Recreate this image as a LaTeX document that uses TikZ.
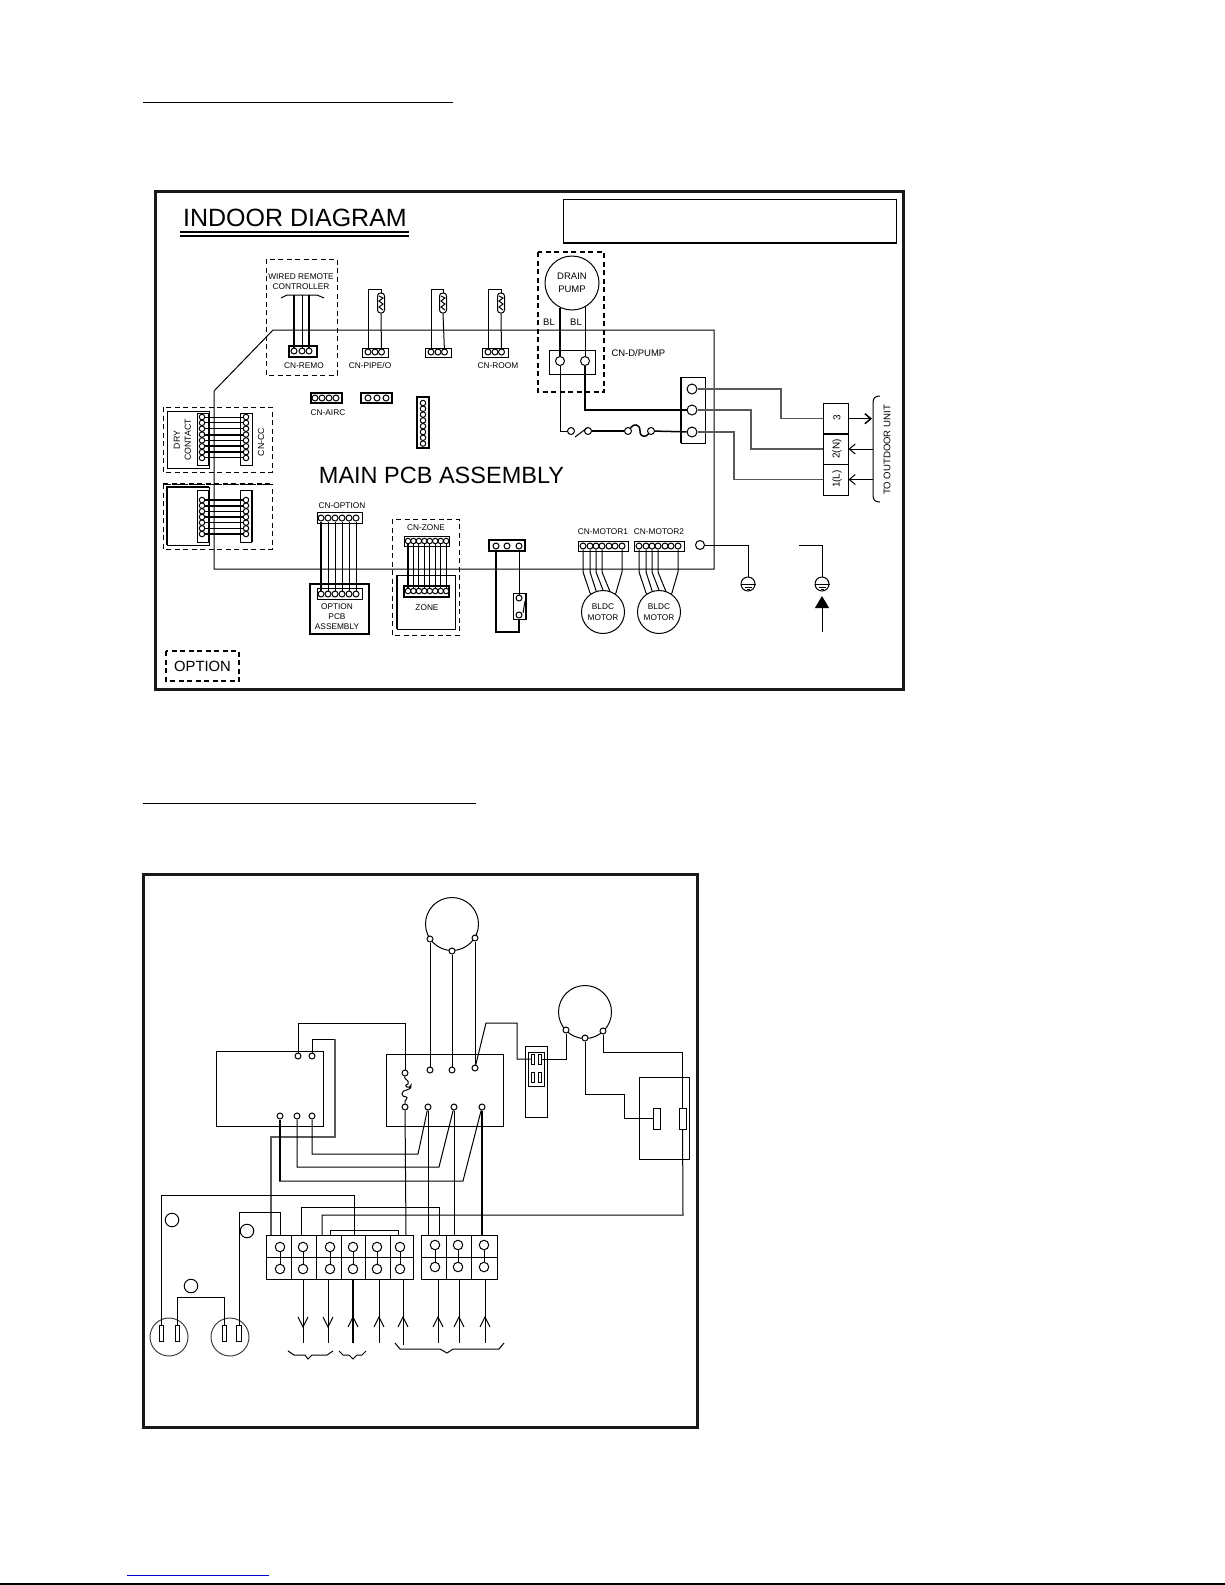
\documentclass[tikz,border=0pt]{standalone}
\usepackage{fontspec}
\setmainfont{Liberation Sans}
\usetikzlibrary{arrows.meta}

\tikzset{
  fat/.style={line width=2pt},
  mid/.style={line width=1.5pt},
  greywire/.style={line width=1.2pt, black!65},
  optbox/.style={line width=1pt, dash pattern=on 5pt off 3.5pt},
  hole/.style={draw, circle, fill=white, inner sep=0pt, minimum size=#1},
  hole/.default=6pt,
  lab/.style={inner sep=0pt, font=\fontsize{8.3}{10.5}\selectfont, align=center},
  lug/.style={draw, circle, inner sep=0pt, align=center, font=\fontsize{8.3}{10.5}\selectfont},
}

\begin{document}
\begin{tikzpicture}[x=1pt, y=-1pt, line width=1pt]
  \useasboundingbox (0,0) rectangle (1225,1585);

  \draw (143,102) -- (453,102);
  \draw (143,803) -- (476,803);
  \draw [blue!80!black] (127,1575) -- (269,1575);
  \draw [line width=2pt] (0,1584) -- (1225,1584);

  \draw [line width=3pt, black!90] (155,191) rectangle (903,689);
  \draw (563,199) rectangle (896,243);
  \draw [line width=1.8pt] (563,243) -- (896,243);
  \node [inner sep=0pt, font=\fontsize{25}{25}\selectfont] (indoor) at (295,218) {INDOOR DIAGRAM};
  \draw [line width=2pt] (180,232) -- (409,232);
  \draw [line width=2pt] (180,236) -- (409,236);
  \node [inner sep=0pt, font=\fontsize{23.5}{24}\selectfont] (mainpcb) at (441.5,475) {MAIN PCB ASSEMBLY};

  \draw (273,330) -- (714,330) -- (714,569) -- (214,569) -- (214,391) -- cycle;

  \draw [optbox] (266,259) rectangle (337,375);
  \draw [optbox, line width=1.6pt] (538,252) rectangle (604,392);
  \draw [optbox] (163,407) rectangle (272,472);
  \draw [optbox] (163,484) rectangle (272,549);
  \draw [optbox] (392,519) rectangle (459,635);
  \draw [optbox, line width=1.4pt] (166,651) rectangle (239,681);
  \node [inner sep=0pt, font=\fontsize{14.8}{15}\selectfont] (optionkey) at (202.5,666) {OPTION};

  \node [lab] (wiredrc) at (301,281.5) {WIRED REMOTE\\CONTROLLER};
  \node [lab] (lremo) at (304,366) {CN-REMO};
  \node [lab] (lpipe) at (370,366) {CN-PIPE/O};
  \node [lab] (lroom) at (498,366) {CN-ROOM};
  \node [lab] (laircon) at (328,413) {CN-AIRC};
  \node [lab] (loption) at (342,506) {CN-OPTION};
  \node [lab] (lzone) at (426,528) {CN-ZONE};
  \node [lab] (lmot1) at (603,532) {CN-MOTOR1};
  \node [lab] (lmot2) at (659,532) {CN-MOTOR2};
  \node [lab, anchor=west, font=\fontsize{9.5}{11}\selectfont] (ldpump) at (611,353) {CN-D/PUMP};
  \node [lab, font=\fontsize{9.5}{11}\selectfont] (lbl1) at (549,322) {BL};
  \node [lab, font=\fontsize{9.5}{11}\selectfont] (lbl2) at (576,322) {BL};
  \node [lab, rotate=90, font=\fontsize{8.8}{11}\selectfont] (ldry) at (182.5,440) {DRY\\CONTACT};
  \node [lab, rotate=90, font=\fontsize{8.8}{11}\selectfont] (lcc) at (261,442) {CN-CC};
  \node [lab, rotate=90, font=\fontsize{9.6}{11}\selectfont] (lout) at (887,450) {TO OUTDOOR UNIT};

  \draw (281,298) -- (287,295) -- (317,295) -- (324,298);
  \draw [mid] (289,346) rectangle (317,357);
  \foreach \n/\x in {1/294,2/302,3/309}{
    \node [hole] (remo\n) at (\x,351) {};
    \coordinate (remotop\n) at (\x,295);
  }
  \draw [mid] (remotop1) -- (remo1);
  \draw (remotop2) -- (remo2);
  \draw [mid] (remotop3) -- (remo3);

  \foreach \s/\xa/\xc in {a/368/381,b/431/443,c/488/501}{
    \draw (\xa-6,348) rectangle (\xa+20,357);
    \node [hole] (\s1) at (\xa,352) {};
    \node [hole] (\s2) at (\xa+7,352) {};
    \node [hole] (\s3) at (\xa+13.5,352) {};
    \node [draw, rounded corners=3pt, inner sep=0pt, minimum width=7pt, minimum height=20pt] (therm\s) at (\xc,303) {};
    \draw (\xc-2,296) -- (\xc+2,298) -- (\xc-2,301) -- (\xc+2,304) -- (\xc-2,307) -- (\xc+2,310);
    \draw (\s1) -- (\xa,289) -| (therm\s.north);
    \draw (therm\s.south) -- (\s3);
  }

  \draw [mid] (311,393) rectangle (342,403);
  \foreach \n/\x in {1/315,2/322,3/329,4/336}{
    \node [hole] (airc\n) at (\x,398) {};
  }
  \draw [mid] (361,393) rectangle (392,403);
  \foreach \n/\x in {1/368,2/377,3/386}{
    \node [hole] (bus\n) at (\x,398) {};
  }
  \draw [mid] (417,397) rectangle (429,448);
  \foreach \n in {0,...,7}{
    \node [hole=5.5pt] (col\n) at (423,403+\n*5.8) {};
  }

  \draw (167,411) rectangle (209,468);
  \draw (197,413) rectangle (208,465);
  \draw (240,413) rectangle (252,465);
  \foreach \n in {0,...,7}{
    \node [hole=5.5pt] (dl\n) at (202,417+\n*5.85) {};
    \node [hole=5.5pt] (dr\n) at (246,417+\n*5.85) {};
  }
  \foreach \n in {0,1,2,4,7}{
    \draw (dl\n) -- (dr\n);
  }
  \foreach \n in {3,5,6}{
    \draw [fat] (dl\n) -- (dr\n);
  }

  \draw [optbox, line width=1.6pt] (163,484) -- (272,484);
  \draw [mid] (167,545) -- (167,487) -- (209,487);
  \draw (167,545) -- (209,545) -- (209,487);
  \draw (197,490) rectangle (208,542);
  \draw (240,490) rectangle (251,542);
  \draw [line width=1.8pt] (252,490) -- (252,542);
  \foreach \n in {0,...,6}{
    \node [hole=5.5pt] (el\n) at (202,500+\n*5.67) {};
    \node [hole=5.5pt] (er\n) at (246,500+\n*5.67) {};
  }
  \foreach \n in {2,4,5}{
    \draw (el\n) -- (er\n);
  }
  \foreach \n in {0,1,3,6}{
    \draw [fat] (el\n) -- (er\n);
  }

  \node [draw, line width=1.8pt, minimum width=59pt, minimum height=50pt] (optpcb) at (339.5,609) {};
  \node [lab, font=\fontsize{8.3}{10}\selectfont] (loptpcb) at (337,617) {OPTION\\PCB\\ASSEMBLY};
  \draw (317,512) rectangle (362,523);
  \draw (317,588) rectangle (362,599);
  \foreach \n/\x in {1/321,2/328,3/335,4/342,5/349,6/356}{
    \node [hole] (opta\n) at (\x,518) {};
    \node [hole] (optb\n) at (\x,594) {};
  }
  \draw [fat] (opta1) -- (optb1);
  \foreach \n in {2,...,6}{
    \draw (opta\n) -- (optb\n);
  }

  \draw (397,575) rectangle (455,629);
  \draw [fat] (397,575) -- (397,629);
  \node [lab] (lzonebox) at (427,608) {ZONE};
  \draw (404,536) rectangle (449,546);
  \draw [mid] (404,586) rectangle (449,597);
  \foreach \n in {0,...,7}{
    \node [hole=5.5pt] (zna\n) at (408+\n*5.45,541) {};
    \node [hole=5.5pt] (znb\n) at (408+\n*5.45,591) {};
  }
  \draw [fat] (zna0) -- (znb0);
  \foreach \n in {1,...,7}{
    \draw (zna\n) -- (znb\n);
  }

  \draw [mid] (489,540) rectangle (525,551);
  \foreach \n/\x in {1/496,2/507,3/519}{
    \node [hole] (flt\n) at (\x,546) {};
  }
  \draw (513,593) rectangle (526,619);
  \draw [mid] (526,593) -- (526,619);
  \node [hole] (sw1) at (519,598) {};
  \node [hole] (sw2) at (519,615) {};
  \draw (523,613) -- (525,601);
  \draw (flt3) -- (sw1);
  \draw [mid] (flt1) -- (496,632) -| (sw2);

  \foreach \m/\dx/\cx in {1/0/603,2/56/659}{
    \node [lug, minimum size=43pt] (bldc\m) at (\cx,612) {BLDC\\MOTOR};
    \draw (578+\dx,541) rectangle (628+\dx,551);
    \foreach \n/\x in {1/583,2/590,3/596,4/602,5/609,6/615,7/622}{
      \node [hole] (mot\m\n) at (\x+\dx,546) {};
    }
    \foreach \n/\a in {1/125,2/108,3/90,4/72,7/55}{
      \draw (mot\m\n) -- (mot\m\n |- 0,572) -- (bldc\m.\a);
    }
  }

  \node [lug, font=\fontsize{9.5}{12.5}\selectfont, minimum size=54pt] (pump) at (572,283) {DRAIN\\PUMP};
  \draw (549,350) rectangle (595,374);
  \node [hole=9pt] (dp1) at (560,361) {};
  \node [hole=9pt] (dp2) at (585,361) {};
  \draw [fat] (pump.244 -| dp1) -- (dp1);
  \draw (pump.299 -| dp2) -- (dp2);

  \draw (681,377) rectangle (705,443);
  \draw [fat] (681,377) -- (681,443);
  \node [hole=10pt] (tb1) at (692,389) {};
  \node [hole=10pt] (tb2) at (692,410) {};
  \node [hole=10pt] (tb3) at (692,432) {};
  \node [hole=7pt] (brk1) at (571,431) {};
  \node [hole=7pt] (brk2) at (588,431) {};
  \node [hole=7pt] (fus1) at (628,431) {};
  \node [hole=7pt] (fus2) at (651,431) {};
  \draw (dp1) |- (brk1);
  \draw (575,437) -- (587,428);
  \draw [mid] (brk2) -- (fus1);
  \draw [mid] (fus1) .. controls (634,423) and (640,424) .. (640,431) .. controls (640,438) and (646,437) .. (fus2);
  \draw [mid] (fus2) -- (tb3);
  \draw [mid] (dp2) |- (tb2);

  \node [draw, minimum width=25pt, minimum height=29.5pt, inner sep=0pt] (out3) at (835.5,418.7) {};
  \node [draw, minimum width=25pt, minimum height=30pt, inner sep=0pt] (out2) at (835.5,449) {};
  \node [draw, minimum width=25pt, minimum height=31pt, inner sep=0pt] (out1) at (835.5,479.5) {};
  \node [lab, rotate=90, font=\fontsize{10}{11}\selectfont] (lout3) at (837,418) {3};
  \node [lab, rotate=90, font=\fontsize{10}{11}\selectfont] (lout2) at (837,449) {2(N)};
  \node [lab, rotate=90, font=\fontsize{10}{11}\selectfont] (lout1) at (837,479) {1(L)};
  \draw [greywire] (tb1) -- (781,389) |- (out3);
  \draw [greywire] (tb2) -- (751,410) |- (out2);
  \draw [greywire] (tb3) -- (734,432) |- (out1);

  \coordinate (brtop) at (880,396);
  \coordinate (brbot) at (880,502);
  \draw [-{Straight Barb[length=6pt,width=10pt]}, mid] (out3.east) -- (872,418.7);
  \draw [-{Straight Barb[length=6pt,width=10pt]}] (873,449) -- (out2.east);
  \draw [-{Straight Barb[length=6pt,width=10pt]}] (873,479.5) -- (out1.east);
  \draw (brtop) .. controls (875,396) and (873,398) .. (873,403) -- (873,495) .. controls (873,500) and (875,502) .. (brbot);

  \node [hole=9pt] (eterm) at (700,545) {};
  \foreach \n/\x in {1/748,2/822}{
    \node [draw, circle, inner sep=0pt, minimum size=14pt] (gnd\n) at (\x,584) {};
    \draw (gnd\n.west) -- (gnd\n.east);
    \draw (\x-3.5,587) -- (\x+3.5,587);
    \draw (\x-1.5,589.5) -- (\x+1.5,589.5);
  }
  \coordinate (estub) at (799,545);
  \coordinate (etail) at (822,632);
  \coordinate (etip) at (822,596);
  \draw (eterm) -| (gnd1);
  \draw (estub) -| (gnd2);
  \draw [-{Triangle[length=12pt,width=14pt]}] (etail) -- (etip);

  \draw [line width=3pt, black!90] (143,874) rectangle (697,1427);

  \node [draw, circle, inner sep=0pt, minimum size=53pt] (fanmot) at (452,924) {};
  \node [hole] (fa) at (430,939) {};
  \node [hole] (fb) at (452,951) {};
  \node [hole] (fc) at (475,938) {};
  \node [draw, circle, inner sep=0pt, minimum size=53pt] (swmot) at (585,1012) {};
  \node [hole] (sa) at (566,1030) {};
  \node [hole] (sb) at (585,1038) {};
  \node [hole] (sc) at (603,1031) {};

  \draw (216,1051) rectangle (323,1126);
  \draw (386,1054) rectangle (503,1126);
  \foreach \n/\x/\y in {a/298/1056,b/312/1056,c/280/1116,d/297/1116,e/312/1116}{
    \node [hole] (left\n) at (\x,\y) {};
  }
  \foreach \n/\x/\y in {a/405/1073,b/430/1070,c/452/1070,d/475/1068,e/405/1107,f/428/1107,g/454/1107,h/482/1107}{
    \node [hole] (rel\n) at (\x,\y) {};
  }
  \draw (fa) -- (relb);
  \draw (fb) -- (relc);
  \draw (fc) -- (reld);
  \draw (rela) .. controls (404,1080) and (410,1080) .. (408,1084) .. controls (402,1086) and (410,1090) .. (411,1085) .. controls (412,1092) and (402,1088) .. (402,1094) .. controls (402,1099) and (411,1094) .. (405,1101) -- (rele);

  \draw (525,1046) rectangle (547,1117);
  \draw (528,1052) rectangle (544,1086);
  \node [draw, inner sep=0pt, minimum width=3pt, minimum height=10pt] (plg1) at (532.5,1059) {};
  \node [draw, inner sep=0pt, minimum width=3pt, minimum height=10pt] (plg2) at (539.5,1059) {};
  \node [draw, inner sep=0pt, minimum width=3pt, minimum height=10pt] (plg3) at (532.5,1077) {};
  \node [draw, inner sep=0pt, minimum width=3pt, minimum height=10pt] (plg4) at (539.5,1077) {};
  \draw (reld) -- (486,1023) -- (517,1023) |- (plg1);
  \draw (plg2) -| (sa);

  \draw (639,1077) rectangle (689,1159);
  \node [draw, inner sep=0pt, minimum width=7pt, minimum height=21pt] (capa) at (656.5,1118.5) {};
  \node [draw, inner sep=0pt, minimum width=7pt, minimum height=21pt] (capb) at (682.5,1118.5) {};
  \draw (sb) |- (624,1094) |- (capa);
  \coordinate (ctopr) at (682.5,1052);
  \draw (sc) |- (ctopr) -- (capb);

  \foreach \n/\x in {1/271,2/280,3/301,4/322,5/330,6/354,7/398,8/406,9/428,10/439,11/454,12/482}{
    \coordinate (ttop\n) at (\x,1235);
  }
  \draw (leftb) |- (335,1039);
  \draw [greywire] (335,1039) |- (271,1137) -- (ttop1);
  \draw (lefta) |- (405,1023) -- (rela);
  \draw (rele) -- (ttop8);
  \draw (relf) -- (ttop9);
  \draw (relg) -- (ttop11);
  \draw [fat] (relh) -- (ttop12);
  \draw (lefte) -- (312,1154) -- (418,1154) -- (relf);
  \draw (leftd) -- (297,1167) -- (439,1167) -- (relg);
  \draw [fat] (leftc) -- (280,1181);
  \draw (279,1181) -- (463,1181) -- (relh);
  \draw (ttop4) |- (683,1215) -- (capb);
  \draw (ttop3) |- (439,1207) -- (ttop10);
  \draw (ttop5) |- (398,1230) -- (ttop7);

  \draw (266,1235) rectangle (413,1279);
  \draw (266,1257) -- (413,1257);
  \foreach \x in {291,316,341,365,390}{
    \draw (\x,1235) -- (\x,1279);
  }
  \foreach \n/\x in {1/280,2/303,3/330,4/353,5/377,6/400}{
    \node [hole=9.5pt] (ua\n) at (\x,1247) {};
    \node [hole=9.5pt] (la\n) at (\x,1269) {};
    \draw (ua\n) -- (la\n);
  }
  \draw (421,1235) rectangle (497,1279);
  \draw (421,1257) -- (497,1257);
  \foreach \x in {446,471}{
    \draw (\x,1235) -- (\x,1279);
  }
  \foreach \n/\x in {7/435,8/458,9/484}{
    \node [hole=9.5pt] (ua\n) at (\x,1245) {};
    \node [hole=9.5pt] (la\n) at (\x,1267) {};
    \draw (ua\n) -- (la\n);
  }

  \foreach \x/\e in {303/1343,328/1343}{
    \draw (\x,1279) -- (\x,\e);
    \draw (\x-5,1317) -- (\x,1327) -- (\x+5,1317);
  }
  \draw [fat] (353,1279) -- (353,1343);
  \foreach \x/\e in {353/1343,379/1343,403/1345,438/1343,459/1343,485/1343}{
    \draw (\x,1279) -- (\x,\e);
    \draw (\x-5,1327) -- (\x,1317) -- (\x+5,1327);
  }

  \draw (288,1351) -- (294,1355) -- (305,1355) -- (308,1359) -- (312,1355) -- (327,1355) -- (333,1351);
  \draw (339,1351) -- (343,1355) -- (349,1355) -- (353,1359) -- (357,1355) -- (362,1355) -- (366,1351);
  \draw (395,1343) -- (400,1349) -- (440,1349) -- (447,1353) -- (453,1349) -- (499,1349) -- (504,1343);

  \foreach \n/\x in {1/169,2/230}{
    \node [draw, circle, inner sep=0pt, minimum size=38pt, black!75] (plug\n) at (\x,1337) {};
  }
  \foreach \n/\x in {a/161.5,b/177.5,c/224.5,d/239}{
    \node [draw, inner sep=0pt, minimum width=4.5pt, minimum height=16pt] (blade\n) at (\x,1333) {};
  }
  \draw (ttop2) |- (239,1212) -- (bladed);
  \draw (ttop6) |- (161.5,1195) -- (bladea);
  \draw (bladeb) |- (224.5,1297);
  \draw [mid] (224.5,1297) -- (bladec);
  \node [draw, circle, inner sep=0pt, minimum size=13.5pt] (eca) at (172,1220) {};
  \node [draw, circle, inner sep=0pt, minimum size=13.5pt] (ecb) at (247,1231) {};
  \node [draw, circle, inner sep=0pt, minimum size=13.5pt] (ecc) at (191,1286) {};
\end{tikzpicture}
\end{document}
